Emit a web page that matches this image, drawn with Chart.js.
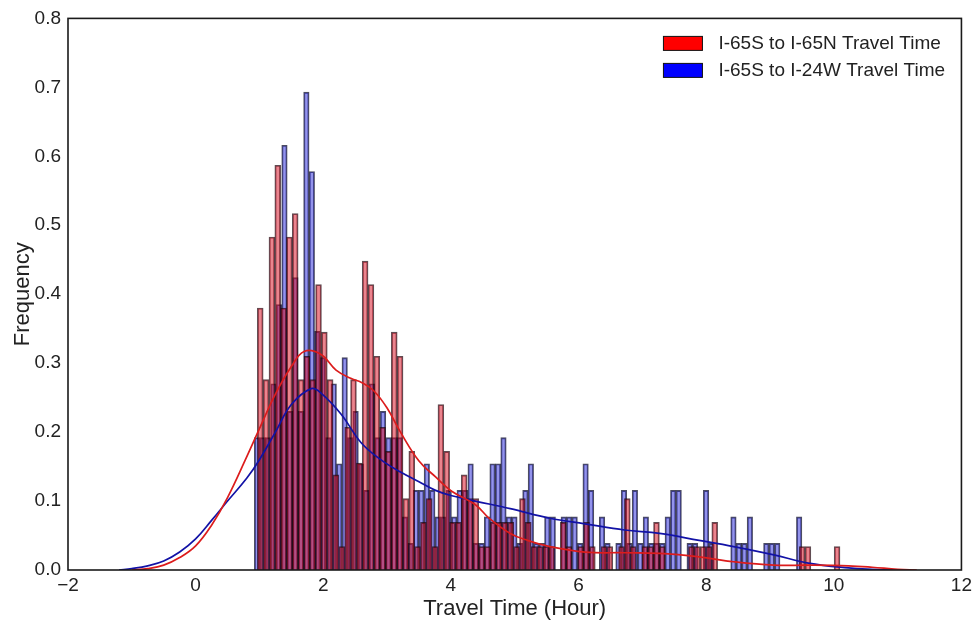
<!DOCTYPE html>
<html>
<head>
<meta charset="utf-8">
<title>Travel Time</title>
<script src="https://cdn.jsdelivr.net/npm/chart.js@4.4.0/dist/chart.umd.min.js"></script>
<style>
body {margin: 0; background: #fff;}
</style>
</head>
<body>
<canvas id="c" width="976" height="624"></canvas>
<script>
// histogram bins (hours)
const redStart = 0.967, redWidth = 0.0913;
const blueStart = 0.92, blueWidth = 0.0858;

// I-65S to I-65N, normed frequency per bin
const redFreq = [
  0.38, 0.276, 0.483, 0.587, 0.38, 0.483, 0.517, 0.276, 0.31, 0.276,
  0.414, 0.345, 0.276, 0.138, 0.034, 0.207, 0.276, 0.155, 0.448, 0.414,
  0.31, 0.207, 0.172, 0.345, 0.31, 0.1035, 0.172, 0.034, 0.069, 0.1035,
  0.034, 0.24, 0.172, 0.069, 0.069, 0.138, 0.1035, 0.1035, 0.034, 0.034,
  0.069, 0.069, 0.069, 0.069, 0.034, 0.1035, 0.069, 0.034, 0.034, 0.034,
  0.034, 0, 0.069, 0.034, 0, 0.034, 0.069, 0.034, 0, 0.034,
  0.034, 0, 0.034, 0.1035, 0.034, 0, 0.034, 0.034, 0.069, 0.034,
  0, 0, 0, 0, 0.034, 0.034, 0.034, 0.034, 0.069, 0,
  0, 0, 0, 0, 0, 0, 0, 0, 0, 0,
  0, 0, 0, 0.034, 0.034, 0, 0, 0, 0, 0.034
];

// I-65S to I-24W, normed frequency per bin
const blueFreq = [
  0.192, 0.192, 0.192, 0.27, 0.385, 0.616, 0.23, 0.424, 0.23, 0.693,
  0.578, 0.346, 0.308, 0.192, 0.27, 0.154, 0.308, 0.192, 0.23, 0.154,
  0.1155, 0.27, 0.192, 0.23, 0.192, 0.192, 0.192, 0.077, 0.0385, 0.1155,
  0.1155, 0.154, 0.1155, 0.077, 0.077, 0.1155, 0.077, 0.1155, 0.1155, 0.154,
  0.0385, 0.0385, 0.077, 0.154, 0.154, 0.192, 0.077, 0.077, 0.0385, 0.1155,
  0.154, 0.0385, 0.0385, 0.077, 0.077, 0, 0.077, 0.077, 0.077, 0.0385,
  0.154, 0.1155, 0, 0.077, 0.0385, 0, 0.0385, 0.1155, 0.0385, 0.1155,
  0.0385, 0.077, 0.0385, 0.0385, 0.0385, 0.077, 0.1155, 0.1155, 0, 0.0385,
  0.0385, 0, 0.1155, 0.0385, 0, 0, 0, 0.077, 0.0385, 0.0385,
  0.077, 0, 0, 0.0385, 0.0385, 0.0385, 0, 0, 0, 0.077
];

// density curves: [hours, density]
const redKde = [
  [-1.0, 0], [-0.75, 0.002], [-0.5, 0.007], [-0.25, 0.018], [0, 0.035], [0.25, 0.065],
  [0.5, 0.105], [0.8, 0.164], [1.0, 0.205], [1.25, 0.255], [1.5, 0.295], [1.7, 0.317],
  [1.96, 0.313], [2.2, 0.29], [2.43, 0.278], [2.6, 0.272], [2.79, 0.26], [3.0, 0.235],
  [3.21, 0.2], [3.5, 0.158], [3.76, 0.135], [4.0, 0.115], [4.38, 0.095], [4.6, 0.075],
  [4.93, 0.053], [5.2, 0.043], [5.55, 0.034], [6.1, 0.026], [6.72, 0.025], [7.27, 0.024],
  [7.89, 0.019], [8.43, 0.012], [9.06, 0.007], [9.6, 0.007], [10.23, 0.006], [10.6, 0.004],
  [11.0, 0.001], [11.3, 0]
];
const blueKde = [
  [-1.2, 0], [-1.0, 0.002], [-0.75, 0.006], [-0.5, 0.013], [-0.25, 0.026], [0, 0.045],
  [0.25, 0.072], [0.5, 0.1], [0.8, 0.133], [1.0, 0.16], [1.25, 0.2], [1.5, 0.24],
  [1.81, 0.263], [1.96, 0.257], [2.28, 0.226], [2.59, 0.185], [2.9, 0.16], [3.21, 0.142],
  [3.5, 0.128], [3.76, 0.1155], [4.0, 0.108], [4.38, 0.1], [4.93, 0.089], [5.55, 0.075],
  [6.1, 0.067], [6.72, 0.058], [7.27, 0.053], [7.89, 0.043], [8.43, 0.034], [9.06, 0.022],
  [9.6, 0.01], [10.23, 0.003], [10.6, 0.001], [11.0, 0]
];

const xMin = -2, xMax = 12, xStep = 2;
const yMin = 0, yMax = 0.8, yStep = 0.1;
const legendLabels = ['I-65S to I-65N Travel Time', 'I-65S to I-24W Travel Time'];

const FONT = "'Liberation Sans', Arial, sans-serif";
Chart.defaults.font.family = FONT;
Chart.defaults.color = '#222';

function bins(start, w, vals) {
  return vals.map((v, i) => ({x: start + (i + 0.5) * w, y: v > 0 ? v : null}));
}
function pts(arr) {
  return arr.map(p => ({x: p[0], y: p[1]}));
}

// frame round the plot + legend in the top right corner
const framePlugin = {
  id: 'frame',
  afterDraw(chart) {
    const {ctx, chartArea: a} = chart;
    ctx.save();
    ctx.strokeStyle = '#1a1a1a';
    ctx.lineWidth = 1.6;
    ctx.strokeRect(a.left, a.top, a.right - a.left, a.bottom - a.top);

    const fills = ['#ff0000', '#0000ff'];
    ctx.font = '19px ' + FONT;
    ctx.textBaseline = 'middle';
    for (let i = 0; i < legendLabels.length; i++) {
      const y = a.top + 25 + i * 27;
      ctx.fillStyle = fills[i];
      ctx.fillRect(a.right - 298, y - 7, 39, 14);
      ctx.lineWidth = 1;
      ctx.strokeStyle = '#111';
      ctx.strokeRect(a.right - 298, y - 7, 39, 14);
      ctx.fillStyle = '#222';
      ctx.fillText(legendLabels[i], a.right - 243, y);
    }
    ctx.restore();
  }
};

const chart = new Chart(document.getElementById('c'), {
  type: 'bar',
  data: {
    datasets: [{
      type: 'line',
      data: pts(redKde),
      borderColor: '#dc1c1c',
      borderWidth: 1.7,
      pointRadius: 0,
      tension: 0.4,
      order: 0
    }, {
      type: 'line',
      data: pts(blueKde),
      borderColor: '#1212a6',
      borderWidth: 1.7,
      pointRadius: 0,
      tension: 0.4,
      order: 0
    }, {
      label: legendLabels[0],
      data: bins(redStart, redWidth, redFreq),
      backgroundColor: 'rgba(215, 10, 30, 0.5)',
      borderColor: 'rgba(30, 0, 10, 0.7)',
      borderWidth: 1.2,
      grouped: false,
      order: 1
    }, {
      label: legendLabels[1],
      data: bins(blueStart, blueWidth, blueFreq),
      backgroundColor: 'rgba(30, 30, 215, 0.48)',
      borderColor: 'rgba(0, 0, 30, 0.7)',
      borderWidth: 1.2,
      grouped: false,
      order: 2
    }]
  },
  options: {
    responsive: false,
    animation: false,
    devicePixelRatio: 1,
    layout: {padding: {top: 16, right: 11, left: 0, bottom: 0}},
    plugins: {legend: {display: false}, tooltip: {enabled: false}},
    scales: {
      x: {
        type: 'linear',
        offset: false,
        min: xMin, max: xMax,
        grid: {display: false, drawTicks: false},
        border: {display: false},
        ticks: {
          stepSize: xStep,
          padding: 4,
          font: {size: 19},
          callback: v => String(v).replace('-', '\u2212')
        },
        title: {display: true, text: 'Travel Time (Hour)', font: {size: 22}, padding: {top: 0, bottom: 2}},
        afterFit: s => { s.height = 54; }
      },
      y: {
        min: yMin, max: yMax,
        grid: {display: false, drawTicks: false},
        border: {display: false},
        ticks: {
          stepSize: yStep,
          padding: 7,
          font: {size: 19},
          callback: v => v.toFixed(1)
        },
        title: {display: true, text: 'Frequency', font: {size: 22}, padding: {top: 10, bottom: 0}},
        afterFit: s => { s.width = 68; }
      }
    }
  },
  plugins: [framePlugin]
});

// bar widths follow the bin width in hours
const xs = chart.scales.x;
const pxPerHour = xs.getPixelForValue(1) - xs.getPixelForValue(0);
chart.data.datasets[2].barThickness = redWidth * pxPerHour;
chart.data.datasets[3].barThickness = blueWidth * pxPerHour;
chart.update('none');
</script>
</body>
</html>
